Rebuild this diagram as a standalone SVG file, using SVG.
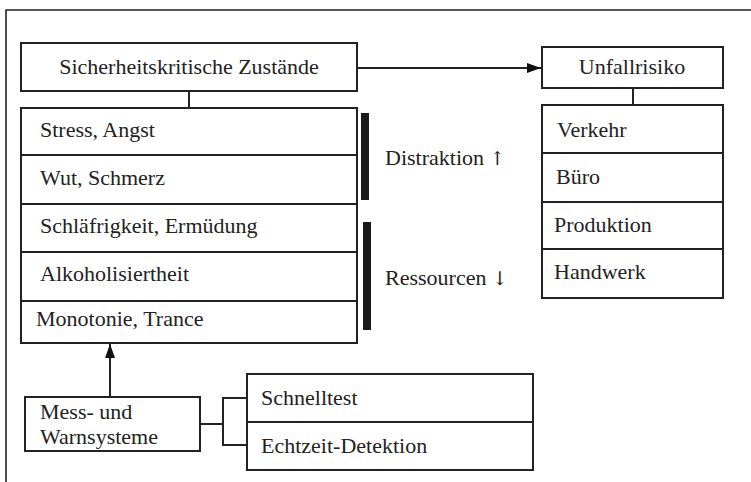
<svg xmlns="http://www.w3.org/2000/svg" width="751" height="482" viewBox="0 0 751 482">
  <style>
    .box { fill: #fff; stroke: #222; stroke-width: 2; }
    .ln { fill: none; stroke: #222; stroke-width: 2; }
    .bar { fill: #1a1a1a; }
    text { font-family: "Liberation Serif", "Times New Roman", serif; font-size: 22px; fill: #222; }
    .c { text-anchor: middle; }
    .arr { font-family: "DejaVu Serif", "DejaVu Sans", serif; font-size: 19px; }
  </style>
  <defs>
    <marker id="arrow" markerWidth="14" markerHeight="10" refX="14" refY="5" orient="auto" markerUnits="userSpaceOnUse">
      <path d="M0,0 L14,5 L0,10 Z" fill="#111"/>
    </marker>
  </defs>
  <rect width="751" height="482" fill="#fff"/>
  <!-- frame: only left and top edges fall inside the canvas -->
  <path d="M6,490 L6,10 L760,10" fill="none" stroke="#222" stroke-width="1.6"/>

  <g id="connectors">
    <path class="ln" d="M189,91 L189,108"/>
    <path class="ln" d="M633,88 L633,105"/>
    <path class="ln" d="M357,68 L541,68" marker-end="url(#arrow)"/>
    <path class="ln" d="M110,397 L110,344" marker-end="url(#arrow)"/>
    <path class="ln" d="M200,424 L223,424 M247,398 L223,398 L223,445 L247,445"/>
  </g>

  <g id="zustaende">
    <rect class="box" x="21" y="43" width="336" height="48"/>
    <text class="c" x="189" y="74">Sicherheitskritische Zustände</text>
  </g>

  <g id="zustaende-liste">
    <rect class="box" x="21" y="108" width="336" height="235"/>
    <path class="ln" d="M21,155 H357 M21,204 H357 M21,252 H357 M21,301 H357"/>
    <text x="40" y="137">Stress, Angst</text>
    <text x="40" y="185">Wut, Schmerz</text>
    <text x="40" y="233">Schläfrigkeit, Ermüdung</text>
    <text x="40" y="281">Alkoholisiertheit</text>
    <text x="36" y="326">Monotonie, Trance</text>
  </g>

  <g id="distraktion">
    <rect class="bar" x="361" y="113" width="8" height="87"/>
    <text x="385" y="165">Distraktion <tspan class="arr">↑</tspan></text>
  </g>

  <g id="ressourcen">
    <rect class="bar" x="363" y="222" width="8" height="108"/>
    <text x="385" y="285">Ressourcen <tspan class="arr">↓</tspan></text>
  </g>

  <g id="unfallrisiko">
    <rect class="box" x="542" y="47" width="181" height="41"/>
    <text class="c" x="632" y="74">Unfallrisiko</text>
  </g>

  <g id="bereiche">
    <rect class="box" x="542" y="105" width="181" height="193"/>
    <path class="ln" d="M542,153 H723 M542,202 H723 M542,249 H723"/>
    <text x="557" y="137">Verkehr</text>
    <text x="556" y="184">Büro</text>
    <text x="554" y="232">Produktion</text>
    <text x="554" y="279">Handwerk</text>
  </g>

  <g id="messsysteme">
    <rect class="box" x="25" y="397" width="175" height="54"/>
    <text x="40" y="419">Mess- und</text>
    <text x="40" y="444">Warnsysteme</text>
  </g>

  <g id="verfahren">
    <rect class="box" x="247" y="374" width="286" height="96"/>
    <path class="ln" d="M247,422 H533"/>
    <text x="261" y="405">Schnelltest</text>
    <text x="261" y="453">Echtzeit-Detektion</text>
  </g>
</svg>
